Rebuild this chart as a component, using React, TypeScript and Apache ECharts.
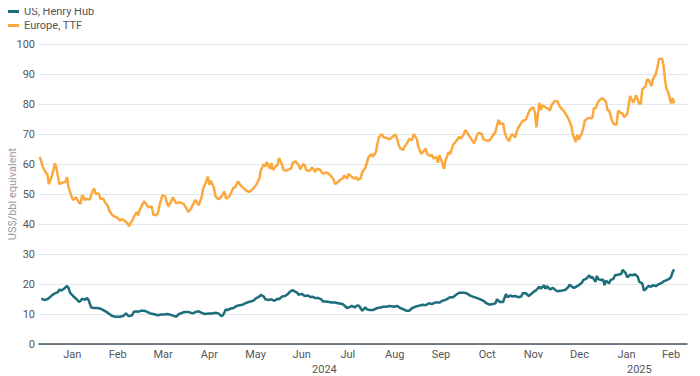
import React, { useEffect, useRef } from "react";
import * as echarts from "echarts";

// Days counted from 2024-01-01 (UTC); negative = late Dec 2023
const TTF_DAY = [-6, -4, -2, -1, 0, 2, 3, 4, 5, 7, 9, 11, 12, 13, 15, 16, 18, 20, 21, 22, 24, 25, 27, 29, 30, 31, 33, 34, 36, 37, 39, 40, 42, 44, 45, 47, 48, 50, 52, 53, 55, 56, 58, 59, 60, 62, 63, 65, 66, 68, 69, 71, 72, 73, 75, 77, 78, 79, 81, 82, 84, 86, 88, 89, 91, 92, 94, 95, 97, 98, 99, 101, 102, 103, 105, 106, 107, 109, 110, 112, 114, 116, 117, 119, 120, 122, 123, 125, 126, 128, 130, 132, 133, 135, 137, 139, 140, 142, 143, 144, 146, 147, 148, 150, 151, 152, 154, 155, 157, 159, 160, 161, 163, 165, 166, 168, 169, 170, 172, 174, 176, 177, 179, 181, 183, 184, 186, 188, 189, 191, 193, 194, 195, 197, 198, 200, 202, 203, 204, 206, 207, 209, 210, 211, 213, 214, 216, 217, 218, 220, 221, 223, 225, 227, 229, 230, 231, 232, 234, 235, 237, 238, 240, 241, 243, 244, 246, 247, 249, 250, 252, 253, 254, 256, 257, 258, 260, 261, 262, 264, 265, 267, 269, 271, 272, 274, 275, 276, 278, 280, 281, 283, 284, 286, 287, 289, 291, 293, 295, 296, 297, 298, 300, 301, 302, 304, 305, 306, 308, 309, 310, 312, 313, 315, 317, 318, 320, 321, 322, 324, 325, 326, 328, 330, 331, 332, 334, 336, 337, 339, 340, 342, 343, 345, 346, 348, 349, 350, 352, 353, 354, 356, 357, 359, 360, 361, 363, 365, 366, 368, 369, 370, 372, 373, 375, 376, 377, 379, 380, 382, 383, 384, 386, 387, 388, 390, 391, 392, 394, 395, 396, 398, 399, 401, 402, 403, 405, 406, 407, 408, 409, 411, 412, 413];
const TTF_VAL = [62.4, 59.1, 57.1, 56.7, 53.3, 56, 58, 60.2, 58.6, 53.3, 53.8, 54, 55.6, 52.2, 49.1, 48, 48.9, 47.1, 46.7, 49.7, 48, 48.4, 48.2, 51.1, 51.8, 50, 50.2, 48.4, 48.4, 47.3, 46, 44.4, 42.9, 42.4, 42.2, 41.1, 41.6, 41.1, 40.2, 39.3, 41.1, 42.2, 44, 42.9, 44.7, 46.7, 47.6, 46, 45.6, 45.8, 43.1, 42.9, 43.6, 46, 49.6, 49.1, 47.1, 45.8, 47.8, 48.9, 46.9, 47.3, 46.9, 46.7, 45.1, 44, 45.1, 46.4, 48, 47.1, 46.2, 49.1, 52, 52.9, 55.8, 53.1, 54.4, 52.2, 49.3, 48.2, 49.1, 50.9, 48.4, 49.1, 50, 52.2, 52.2, 54.2, 53.3, 52.2, 51.3, 50.7, 50.9, 51.8, 53.1, 55.1, 57.8, 60, 59.1, 60.7, 58.4, 60.2, 58, 59.3, 59.6, 62, 59.8, 58, 57.8, 58.4, 58.4, 60.4, 60.9, 59.6, 58.2, 60, 59.6, 58, 57.6, 58.9, 57.3, 58.4, 58.2, 56.7, 57.1, 57.1, 56.2, 54.9, 53.3, 54, 54.9, 55.1, 56.2, 55.1, 56.7, 55.8, 55.1, 55.6, 54.7, 55.3, 57.3, 58.7, 60.2, 62.2, 63.3, 62.4, 64, 66.7, 68.9, 70, 68.9, 68.7, 68.2, 69.1, 69.8, 68.4, 66.4, 65.3, 64.7, 65.8, 67.3, 68.4, 68, 70, 68.4, 65.8, 63.3, 64, 65.1, 63.3, 62.7, 63.1, 61.8, 62.4, 60.4, 62.9, 60.2, 58.4, 61.1, 64, 63.3, 66.4, 67.6, 69.1, 68.4, 69.8, 71.3, 70.7, 69.1, 67.6, 66.9, 69.8, 70.4, 70, 68.2, 67.8, 67.8, 69.3, 70.7, 72.7, 74.7, 73.3, 73.6, 70.9, 69.1, 67.6, 69.1, 70, 68.9, 70.7, 72, 73.6, 74.4, 74.7, 77.3, 78.2, 78.9, 77.3, 72.2, 80.4, 78, 79.6, 78.9, 78.4, 77.8, 79.6, 80.9, 80.9, 79.6, 78.2, 77.8, 76.2, 75.3, 72.9, 70, 67.3, 69.8, 68.2, 70.2, 72, 74.4, 75.3, 75.3, 75.3, 78.7, 78.4, 80.9, 81.8, 81.8, 80.7, 77.8, 78, 74.4, 73.3, 73.1, 77.8, 77.3, 76.7, 75.6, 76.7, 79.6, 82.7, 80.4, 81.6, 82.9, 80, 80.2, 84.9, 85.8, 88, 88.2, 86, 88.2, 90.2, 92.2, 95.1, 95.1, 92.9, 88, 84.9, 84.2, 80.2, 82, 80.2];

const HH_DAY = [-5, -3, -1, 0, 2, 4, 6, 7, 8, 10, 11, 12, 13, 14, 16, 18, 20, 21, 22, 24, 25, 26, 28, 30, 32, 34, 36, 38, 40, 42, 44, 47, 49, 51, 52, 53, 55, 56, 58, 59, 61, 63, 65, 67, 69, 72, 74, 76, 78, 80, 83, 84, 86, 88, 90, 92, 95, 97, 99, 101, 103, 106, 108, 110, 112, 114, 115, 117, 118, 120, 122, 124, 126, 128, 130, 132, 135, 137, 139, 140, 142, 143, 145, 147, 149, 151, 152, 154, 156, 158, 159, 161, 162, 164, 165, 167, 169, 171, 173, 174, 176, 178, 180, 181, 183, 185, 187, 189, 191, 194, 195, 197, 199, 200, 202, 204, 205, 206, 207, 209, 210, 212, 214, 217, 219, 221, 223, 225, 228, 230, 232, 234, 236, 238, 240, 242, 244, 247, 249, 251, 253, 255, 258, 260, 262, 264, 265, 267, 269, 271, 272, 274, 276, 278, 280, 283, 285, 287, 289, 291, 293, 295, 296, 297, 298, 300, 302, 303, 305, 306, 308, 310, 312, 313, 315, 317, 318, 320, 322, 324, 325, 327, 328, 329, 331, 333, 335, 336, 339, 341, 343, 344, 346, 347, 349, 350, 352, 353, 355, 357, 358, 359, 361, 362, 363, 365, 366, 367, 368, 370, 371, 373, 374, 376, 378, 379, 381, 382, 384, 386, 387, 389, 390, 392, 393, 394, 396, 398, 399, 401, 403, 405, 406, 408, 410, 411, 412, 413];
const HH_VAL = [15.1, 14.7, 14.9, 15.3, 16.2, 16.9, 17.3, 18.2, 17.8, 18.4, 18.9, 19.3, 18.7, 17.1, 16, 15.1, 14, 14.4, 15.1, 14.7, 15.3, 14.9, 12.2, 12, 12, 11.8, 11.3, 10.7, 10, 9.3, 9.1, 9.1, 9.3, 10.2, 9.6, 9.3, 9.6, 10.7, 10.9, 10.7, 11.1, 11.1, 10.7, 10.2, 10, 9.6, 9.8, 9.8, 10, 9.8, 9.3, 9.1, 10, 10.4, 10.7, 10.7, 10.2, 10.7, 10.9, 10.4, 10, 10.2, 10.2, 10.4, 10.2, 9.3, 9.6, 11.6, 11.3, 11.8, 12, 12.7, 12.9, 13.1, 13.6, 14, 14.4, 15.3, 15.8, 16.4, 15.8, 14.9, 14.7, 14.9, 14.4, 15.1, 14.9, 15.8, 16, 16.7, 17.3, 18, 17.6, 17.1, 16.4, 16.7, 16, 16.2, 15.6, 15.8, 15.3, 15.3, 14.9, 14.2, 14.2, 14, 13.8, 13.8, 13.6, 13.3, 12.9, 12, 12.4, 12.7, 12.2, 12.9, 12.7, 11.8, 11.1, 12.2, 11.6, 11.3, 11.3, 12, 12.2, 12.4, 12.4, 12.7, 12.4, 12.7, 12, 11.6, 11.1, 11.1, 12, 12.4, 12.7, 13.1, 12.9, 13.6, 13.3, 13.8, 13.8, 14.4, 14.7, 15.3, 15.6, 15.6, 16.4, 17.1, 17.1, 17.1, 16.9, 16.2, 15.8, 15.3, 14.9, 14.4, 13.6, 13.1, 13.3, 13.6, 14.9, 14.4, 14, 14, 16.7, 15.6, 16.2, 15.8, 16, 15.6, 15.8, 16.9, 16.9, 16, 16.4, 17.3, 18, 19.1, 18.4, 19.6, 18.4, 19.3, 18.2, 18.7, 17.8, 17.6, 17.8, 18, 18.9, 19.8, 18.9, 18.7, 19.3, 19.6, 20.4, 21.3, 21.8, 22.9, 22, 22.4, 20.7, 22.7, 21.6, 21.3, 21.6, 19.6, 21.1, 20.2, 21.3, 21.8, 22.9, 23.1, 23.3, 24.7, 23.6, 22.2, 23.1, 22.9, 23.3, 22.4, 20.7, 20.2, 17.8, 18.2, 19.3, 19.1, 19.6, 19.3, 20, 20.4, 20.9, 21.3, 21.8, 22.4, 24, 24.9];

const MONTH_NAMES = ["Jan", "Feb", "Mar", "Apr", "May", "Jun", "Jul", "Aug", "Sep", "Oct", "Nov", "Dec"];
// [year, month index] for each x-axis label (centred in its month)
const MONTH_LABELS: [number, number][] = [
  [2024, 0], [2024, 1], [2024, 2], [2024, 3], [2024, 4], [2024, 5], [2024, 6],
  [2024, 7], [2024, 8], [2024, 9], [2024, 10], [2024, 11], [2025, 0], [2025, 1],
];
// year labels: [year, month, day] positions
const YEAR_LABELS: [number, number, number][] = [[2024, 6, 1], [2025, 0, 25]];

const AXIS_MIN_DAY = -6.5;
const AXIS_MAX_DAY = 421.5;

const DAY_MS = 86400000;
const BASE = Date.UTC(2024, 0, 1);
const toDay = (t: number) => (t - BASE) / DAY_MS;
const dayToDate = (d: number) => new Date(BASE + d * DAY_MS);

export default function App() {
  const ref = useRef<HTMLDivElement>(null);
  useEffect(() => {
    if (!ref.current) return;
    const chart = echarts.init(ref.current, undefined, { renderer: "svg" });
    const font = "Roboto, 'Noto Sans', sans-serif";
    const monthTicks = MONTH_LABELS.map(([y, m]) => {
      const a = Date.UTC(y, m, 1);
      const b = Date.UTC(y, m + 1, 1);
      return toDay((a + b) / 2);
    });
    const yearTicks = YEAR_LABELS.map(([y, m, d]) => toDay(Date.UTC(y, m, d)));
    chart.setOption({
      animation: false,
      textStyle: { fontFamily: font },
      legend: {
        orient: "vertical",
        left: 7,
        top: 6,
        padding: 0,
        itemGap: 3,
        itemWidth: 12,
        itemHeight: 3,
        icon: "rect",
        textStyle: { fontSize: 11, color: "#555", fontFamily: font },
        data: ["US, Henry Hub", "Europe, TTF"],
      },
      grid: { left: 39, right: 13, top: 44, bottom: 32, containLabel: false, outerBoundsMode: "none" },
      xAxis: [
        {
          type: "value",
          min: AXIS_MIN_DAY,
          max: AXIS_MAX_DAY,
          axisLine: { show: true, onZero: false, lineStyle: { color: "#46535f", width: 1.5 } },
          axisTick: { show: false },
          splitLine: { show: false },
          axisLabel: {
            customValues: monthTicks,
            color: "#555",
            fontSize: 11,
            fontFamily: font,
            margin: 5,
            showMinLabel: true,
            showMaxLabel: true,
            formatter: (v: number) => MONTH_NAMES[dayToDate(v).getUTCMonth()],
          },
        },
        {
          type: "value",
          position: "bottom",
          offset: 15,
          min: AXIS_MIN_DAY,
          max: AXIS_MAX_DAY,
          axisLine: { show: false },
          axisTick: { show: false },
          splitLine: { show: false },
          axisLabel: {
            customValues: yearTicks,
            color: "#555",
            fontSize: 11,
            fontFamily: font,
            margin: 5,
            formatter: (v: number) => String(dayToDate(v).getUTCFullYear()),
          },
        },
      ],
      yAxis: {
        type: "value",
        min: 0,
        max: 100,
        interval: 10,
        name: "US$/bbl equivalent",
        nameLocation: "middle",
        nameGap: 21,
        nameMoveOverlap: false,
        nameTextStyle: { color: "#9a9a9a", fontSize: 11, fontFamily: font },
        axisLine: { show: false },
        axisTick: { show: false },
        axisLabel: { color: "#555", fontSize: 11, fontFamily: font, margin: 4 },
        splitLine: { lineStyle: { color: "#e3e7ec", width: 1 } },
      },
      series: [
        {
          name: "US, Henry Hub",
          type: "line",
          xAxisIndex: 0,
          showSymbol: false,
          color: "#1d6d7b",
          lineStyle: { width: 2.5, color: "#1d6d7b" },
          data: HH_DAY.map((d, i) => [d, HH_VAL[i]]),
        },
        {
          name: "Europe, TTF",
          type: "line",
          xAxisIndex: 0,
          showSymbol: false,
          color: "#fba93f",
          lineStyle: { width: 2.5, color: "#fba93f" },
          data: TTF_DAY.map((d, i) => [d, TTF_VAL[i]]),
        },
      ],
    });
    return () => chart.dispose();
  }, []);
  return <div ref={ref} style={{ width: 700, height: 376, margin: "-8px 0 0 -8px" }} />;
}
